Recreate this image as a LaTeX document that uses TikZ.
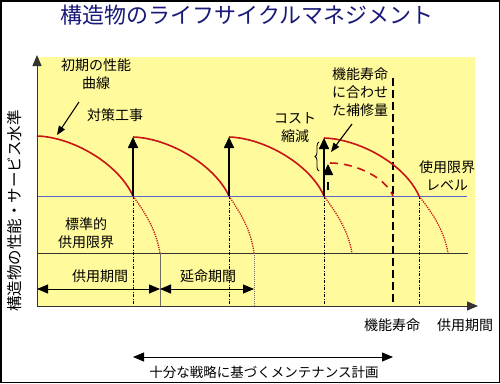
\documentclass[tikz,border=0pt]{standalone}
\usepackage{fontspec}
\newfontfamily\jp{Noto Sans CJK JP}
\usetikzlibrary{arrows.meta,decorations.pathreplacing}
\definecolor{bgyellow}{RGB}{255,250,155}
\definecolor{curvered}{RGB}{200,20,20}
\definecolor{limitblue}{RGB}{90,100,200}
\definecolor{titleblue}{RGB}{25,25,120}
\definecolor{guidegray}{RGB}{110,110,100}
\tikzset{
  lbl/.style={font=\jp\fontsize{14}{18}\selectfont, align=center, inner sep=0pt},
  perf/.style={curvered, line width=1.6pt},
  decay/.style={curvered, line width=1.3pt, dash pattern=on 1.2pt off 1.1pt},
  repair/.style={-{Triangle[length=11pt,width=10pt]}, line width=1.7pt},
  guide/.style={line width=0.5pt, dash pattern=on 3pt off 1.5pt on 1pt off 1.5pt},
  span/.style={{Triangle[length=11pt,width=9pt]}-{Triangle[length=11pt,width=9pt]}, line width=0.9pt},
  pointer/.style={-{Triangle[length=9pt,width=7pt]}, line width=1.1pt},
}
\begin{document}
\begin{tikzpicture}[x=1pt, y=-1pt]
\useasboundingbox (0,0) rectangle (500,383);
\draw[line width=1.5pt] (0.75,0.75) rectangle (499.25,382.25);
\fill[bgyellow] (37,57) rectangle (475,306);
% key points
\coordinate (O) at (37,306);
\coordinate (Ytip) at (37,55);
\coordinate (Xtip) at (478,306);
\coordinate (S0) at (37,136);
\coordinate (S1) at (133,137);
\coordinate (S2) at (229,137);
\coordinate (S3) at (324,138);
\coordinate (E1) at (133,196);
\coordinate (E2) at (229,196);
\coordinate (E3) at (324,196);
\coordinate (E4) at (419,196);
\coordinate (D1) at (160,253);
\coordinate (D2) at (254,253);
\coordinate (D3) at (352,253);
\coordinate (D4) at (448,253);
\coordinate (R0) at (330,163);
\coordinate (R1) at (393,196);
% limit lines
\draw[limitblue, line width=0.8pt] (37,196) -- (467,196);
\draw[black!80, line width=0.7pt] (37,253) -- (468,253);
% guides
\foreach \p in {1,2,3,4}{
  \draw[guide] (E\p) -- (E\p |- O);
}
\draw[guidegray, line width=0.5pt] (D1) -- (D1 |- O);
\draw[guidegray, line width=0.5pt, dash pattern=on 1pt off 1pt] (D2) -- (D2 |- O);
\coordinate (Ltop) at (393,78);
\draw[line width=1.4pt, dash pattern=on 8pt off 4pt] (Ltop) -- (Ltop |- O);
% performance curves
\draw[perf] (S0) .. controls (72,137) and (118,163) .. (E1);
\draw[perf] (S1) .. controls (168,138) and (214,164) .. (E2);
\draw[perf] (S2) .. controls (264,138) and (310,164) .. (E3);
\draw[perf] (S3) .. controls (359,139) and (405,164) .. (E4);
\draw[perf, dash pattern=on 8pt off 6pt] (R0) .. controls (356,163) and (386,178) .. (R1);
% deterioration beyond limit
\draw[decay] (E1) .. controls (146,214) and (156,230) .. (D1);
\draw[decay] (E2) .. controls (241,214) and (251,230) .. (D2);
\draw[decay] (E3) .. controls (337,214) and (348,230) .. (D3);
\draw[decay] (E4) .. controls (433,214) and (444,230) .. (D4);
% axes
\draw[line width=1pt, black!80, -{Triangle[length=11pt,width=9pt]}] (O) -- (Ytip);
\draw[line width=1pt, black!80, -{Triangle[length=11pt,width=9pt]}] (O) -- (Xtip);
% repair works
\draw[repair] (E1) -- (S1);
\draw[repair] (E2) -- (S2);
\draw[repair] (E3) -- (S3);
\coordinate (Pa) at (328,174);
\coordinate (Pb) at (328,164);
\coordinate (Pc) at (328,182);
\coordinate (Pd) at (328,190);
\draw[repair] (Pa) -- (Pb);
\draw[line width=1.6pt] (Pc) -- (Pd);
\coordinate (B1) at (319,171);
\coordinate (B2) at (319,142);
\draw[line width=0.8pt, decorate, decoration={brace, amplitude=4pt}] (B1) -- (B2);
% periods
\coordinate (P0) at (37,289);
\coordinate (P1) at (160,289);
\coordinate (P2) at (254,289);
\draw[span] (P0) -- (P1);
\draw[span] (P1) -- (P2);
\coordinate (M0) at (133,357);
\coordinate (M1) at (393,357);
\draw[span] (M0) -- (M1);
% labels
\node[lbl, text=titleblue, font=\jp\fontsize{22}{26}\selectfont] (title) at (247,15) {構造物のライフサイクルマネジメント};
\node[lbl, rotate=90, font=\jp\fontsize{15.5}{18}\selectfont] (ylabel) at (15,211) {構造物の性能・サービス水準};
\node[lbl] (initial) at (96,74) {初期の性能\\曲線};
\coordinate (Iarrow) at (79,102);
\coordinate (Ihead) at (57,135);
\draw[pointer] (Iarrow) -- (Ihead);
\node[lbl] (works) at (115,115) {対策工事};
\node[lbl] (cost) at (295,128) {コスト\\縮減};
\node[lbl] (amount) at (360,92) {機能寿命\\に合わせ\\た補修量};
\coordinate (Aarrow) at (352,124);
\coordinate (Ahead) at (331,152);
\draw[pointer] (Aarrow) -- (Ahead);
\node[lbl] (uselimit) at (447,176) {使用限界\\レベル};
\node[lbl] (stdlimit) at (86,233) {標準的\\供用限界};
\node[lbl] (service) at (100,276) {供用期間};
\node[lbl] (extend) at (208,276) {延命期間};
\node[lbl] (funclife) at (392,325) {機能寿命};
\node[lbl] (xlabel) at (465,325) {供用期間};
\node[lbl, font=\jp\fontsize{13.5}{16}\selectfont] (plan) at (264,372) {十分な戦略に基づくメンテナンス計画};
\end{tikzpicture}
\end{document}
